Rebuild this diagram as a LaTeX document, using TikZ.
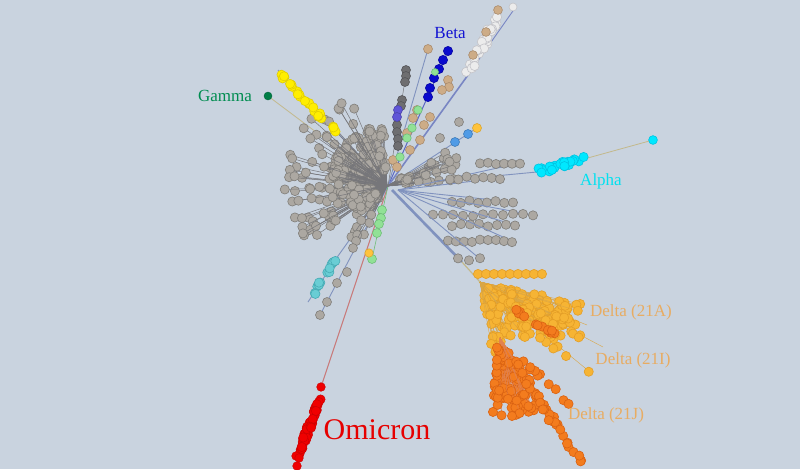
\documentclass[tikz,border=0pt]{standalone}
\usepackage{fontspec}
\setmainfont{Liberation Serif}
\definecolor{bgc}{RGB}{201,211,223}
\definecolor{gfill}{RGB}{172,168,162}
\definecolor{gline}{RGB}{128,126,122}
\definecolor{hubl}{RGB}{118,118,122}
\definecolor{blin}{RGB}{128,146,190}
\definecolor{yelf}{RGB}{255,238,0}
\definecolor{yelo}{RGB}{225,205,0}
\definecolor{gamg}{RGB}{0,125,70}
\definecolor{betb}{RGB}{10,10,205}
\definecolor{whf}{RGB}{236,236,236}
\definecolor{who}{RGB}{195,195,200}
\definecolor{tanf}{RGB}{205,172,135}
\definecolor{tano}{RGB}{170,140,110}
\definecolor{dgf}{RGB}{110,110,112}
\definecolor{dgo}{RGB}{85,85,88}
\definecolor{purp}{RGB}{95,85,215}
\definecolor{cyf}{RGB}{0,232,255}
\definecolor{cyo}{RGB}{0,195,225}
\definecolor{lblu}{RGB}{80,155,230}
\definecolor{yor}{RGB}{255,195,60}
\definecolor{tlf}{RGB}{105,205,212}
\definecolor{tlo}{RGB}{70,170,180}
\definecolor{lgf}{RGB}{145,225,150}
\definecolor{lgo}{RGB}{110,190,120}
\definecolor{daf}{RGB}{246,180,52}
\definecolor{dao}{RGB}{228,158,38}
\definecolor{djf}{RGB}{243,124,30}
\definecolor{djo}{RGB}{218,98,18}
\definecolor{redf}{RGB}{240,0,0}
\definecolor{redo}{RGB}{205,0,0}
\definecolor{redl}{RGB}{200,120,120}
\definecolor{tanl}{RGB}{195,185,140}
\definecolor{dellab}{RGB}{232,172,98}
\definecolor{alplab}{RGB}{0,225,240}
\definecolor{gamlab}{RGB}{0,140,80}
\definecolor{betlab}{RGB}{20,20,210}
\definecolor{omlab}{RGB}{230,0,0}
\definecolor{orl}{RGB}{225,130,80}
\newcommand\dotr{4.6}
\newcommand\fanout[9]{%
  \foreach \k in {1,...,#9}{%
    \pgfmathsetmacro\fna{#5+(#6-#5)*rnd}%
    \pgfmathsetmacro\fnl{#7+(#8-#7)*rnd}%
    \draw[#2] (#3,#4) -- ++(\fna:\fnl);%
    \filldraw[#1] (#3,#4) ++(\fna:\fnl) circle (\dotr);%
  }}
\newcommand\dline[7]{%
  \foreach \k in {1,...,#6}{%
    \pgfmathsetmacro\dlt{rnd}%
    \pgfmathsetmacro\dlx{#2+(#4-#2)*\dlt+#7*rand}%
    \pgfmathsetmacro\dly{#3+(#5-#3)*\dlt+#7*rand}%
    \filldraw[#1] (\dlx,\dly) circle (\dotr);%
  }}
\newcommand\dotrow[4]{%
  \draw[bl] (398,190) -- (#3,#1);%
  \foreach \k in {0,...,#4}{%
    \pgfmathsetmacro\drx{#2+(#3-#2)*\k/#4}%
    \pgfmathsetmacro\dry{#1+1.5*rand}%
    \filldraw[g] (\drx,\dry) circle (\dotr);%
  }}
\begin{document}
\begin{tikzpicture}[x=1pt,y=-1pt,
  g/.style={fill=gfill,draw=gline,line width=0.6pt},
  hl/.style={draw=hubl,line width=0.5pt},
  bl/.style={draw=blin,line width=0.9pt},
  yl/.style={fill=yelf,draw=yelo,line width=0.6pt},
  wh/.style={fill=whf,draw=who,line width=0.6pt},
  tn/.style={fill=tanf,draw=tano,line width=0.6pt},
  dg/.style={fill=dgf,draw=dgo,line width=0.6pt},
  pu/.style={fill=purp,draw=purp!80!black,line width=0.6pt},
  bt/.style={fill=betb,draw=betb!80!black,line width=0.6pt},
  cy/.style={fill=cyf,draw=cyo,line width=0.6pt},
  lb/.style={fill=lblu,draw=lblu!80!black,line width=0.6pt},
  yo/.style={fill=yor,draw=yor!85!black,line width=0.6pt},
  tl/.style={fill=tlf,draw=tlo,line width=0.6pt},
  lg/.style={fill=lgf,draw=lgo,line width=0.6pt},
  da/.style={fill=daf,draw=dao,line width=0.6pt},
  dj/.style={fill=djf,draw=djo,line width=0.6pt},
  rd/.style={fill=redf,draw=redo,line width=0.5pt},
  tline/.style={draw=tanl,line width=0.8pt},
  aline/.style={draw=dao!70!tanl,line width=0.4pt},
  oline/.style={draw=orl,line width=0.4pt},
  lab/.style={font=\fontsize{17}{17}\selectfont,inner sep=0pt}
]
\useasboundingbox (0,0) rectangle (800,469);
\fill[bgc] (0,0) rectangle (800,469);
\coordinate (hub) at (388,186);
\pgfmathsetseed{7}
% long lines
\draw[draw=redl,line width=1pt] (hub) -- (321,387);
\draw[tline] (hub) -- (268,96);
\draw[bl] (hub) -- (278,70);
\draw[draw=blin!70!betb,line width=1pt] (hub) -- (448,51);
\draw[draw=blin!80!purp,line width=1.6pt] (hub) -- (468,75);
\draw[draw=blin!80!purp,line width=0.9pt] (468,75) -- (515,8);
\draw[bl] (hub) -- (428,49);
\draw[hl] (hub) -- (407,68);
\draw[bl] (hub) -- (477,128);
\draw[bl] (hub) -- (537,172);
\draw[tline] (537,172) -- (653,140);
\draw[bl] (hub) -- (338,256) -- (308,302);
\draw[bl] (hub) -- (320,315);
\draw[draw=lgo,line width=0.6pt] (hub) -- (372,259);
\draw[draw=blin,line width=2.6pt] (392,190) -- (462,262);
\draw[tline,line width=1.2pt] (462,262) -- (480,282) -- (500,338);
% gray hub cluster
\fanout{g}{hl}{387}{186}{185}{268}{12}{60}{150}
\fanout{g}{hl}{387}{186}{140}{250}{45}{104}{70}
\fanout{g}{hl}{387}{186}{115}{185}{12}{70}{60}
\fanout{g}{hl}{387}{186}{330}{355}{12}{75}{34}
% right rows
\dotrow{163}{480}{520}{5}
\dotrow{178}{450}{500}{6}
\dotrow{202}{452}{513}{7}
\dotrow{215}{433}{533}{10}
\dotrow{225}{452}{515}{7}
\dotrow{241}{448}{512}{8}
\dotrow{259}{458}{480}{2}
% gamma / yellow
\dline{yl}{279}{72}{286}{80}{4}{1.5}
\dline{yl}{290}{84}{303}{98}{7}{1.5}
\dline{yl}{306}{100}{322}{118}{10}{1.5}
\dline{yl}{331}{126}{337}{133}{4}{1.5}
\filldraw[fill=gamg,draw=gamg!80!black] (268,96) circle (4);
% white cluster
\dline{wh}{468}{72}{500}{14}{30}{3.5}
\foreach \p in {(498,10),(486,32),(473,55)} \filldraw[tn] \p circle (4.4);
\filldraw[wh] (513,7) circle (4);
% beta
\foreach \p in {(448,51),(443,60),(439,69),(434,78),(430,88),(428,97)} \filldraw[bt] \p circle (4.6);
\filldraw[lg] (435,72) circle (3.5);
% dark gray column
\foreach \p in {(406,70),(406,76),(405,82),(402,100),(401,106),(397,125),(397,132),(398,139),(398,146)} \filldraw[dg] \p circle (4.5);
\foreach \p in {(398,110),(397,117)} \filldraw[pu] \p circle (4.5);
% tan branch
\foreach \p in {(428,49),(448,80),(449,87),(442,90),(430,117),(417,110),(413,118),(407,133),(393,160),(397,167),(424,125),(420,140),(410,150)} \filldraw[tn] \p circle (4.5);
\foreach \p in {(418,110),(412,128),(407,138),(400,157)} \filldraw[lg] \p circle (4.2);
% small coloured
\foreach \p in {(459,122),(440,138)} \filldraw[g] \p circle (4.5);
\foreach \p in {(455,142),(468,134)} \filldraw[lb] \p circle (4.5);
\filldraw[yo] (477,128) circle (4.5);
% alpha
\dline{cy}{537}{172}{585}{159}{26}{3}
\filldraw[cy] (653,140) circle (4.4);
% teal and lower-left
\dline{tl}{338}{256}{308}{302}{13}{1.5}
\foreach \p in {(353,248),(347,272),(337,283),(327,302),(320,315)} \filldraw[g] \p circle (4.5);
\foreach \p in {(382,210),(381,218),(379,224),(377,233),(372,259)} \filldraw[lg] \p circle (4.5);
\filldraw[yo] (369,253) circle (4.2);
% delta 21A
\draw[aline] (480,282) -- (587,325);
\draw[aline] (480,282) -- (603,347);
\draw[aline] (480,282) -- (590,372);
\foreach \x in {478,486,...,545} \filldraw[da] (\x,274) circle (\dotr);
\fanout{da}{aline}{480}{282}{12}{40}{15}{105}{115}
\fanout{da}{aline}{480}{282}{35}{80}{10}{72}{70}
\dline{da}{500}{300}{587}{325}{10}{2}
\dline{da}{500}{300}{603}{347}{11}{2}
\dline{da}{495}{305}{590}{372}{10}{2}
\dline{dj}{517}{310}{556}{335}{14}{2}
% delta 21J
\draw[oline] (500,338) -- (583,463);
\draw[oline] (505,370) -- (512,416);
\fanout{dj}{oline}{500}{338}{55}{97}{12}{80}{125}
\dline{dj}{498}{345}{497}{412}{12}{2}
\dline{dj}{510}{350}{570}{405}{10}{2}
\dline{dj}{515}{360}{562}{430}{11}{2}
\dline{dj}{525}{385}{583}{463}{18}{2}
\filldraw[dj] (512,416) circle (\dotr);
% omicron
\filldraw[rd] (321,387) circle (4.3);
\dline{rd}{319}{398}{300}{452}{45}{2.5}
\foreach \p in {(296,456),(299,458),(297,466)} \filldraw[rd] \p circle (4.3);
% labels
\node[lab,text=gamlab] (lgamma) at (225,96) {Gamma};
\node[lab,text=betlab] (lbeta) at (450,33) {Beta};
\node[lab,text=alplab] (lalpha) at (601,181) {Alpha};
\node[lab,text=dellab] (ldA) at (631,312) {Delta (21A)};
\node[lab,text=dellab] (ldI) at (633,360) {Delta (21I)};
\node[lab,text=dellab] (ldJ) at (606,415) {Delta (21J)};
\node[lab,text=omlab,font=\fontsize{30}{30}\selectfont] (lom) at (377,430) {Omicron};
\end{tikzpicture}
\end{document}
